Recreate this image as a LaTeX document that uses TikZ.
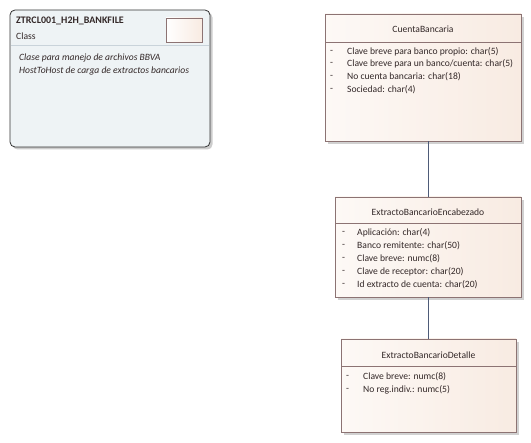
\documentclass[tikz,border=0pt]{standalone}
\usepackage{fontspec}
\setmainfont{Carlito}
\usetikzlibrary{shadows}

\definecolor{umlborder}{HTML}{8C7373}
\definecolor{umltext}{HTML}{332828}
\definecolor{umlfillL}{HTML}{FDF9F6}
\definecolor{umlfillR}{HTML}{F8EBE2}
\definecolor{notefill}{HTML}{EEF3F5}
\definecolor{noteline}{HTML}{C9D3DA}
\definecolor{connector}{HTML}{4E5B78}

\tikzset{
  classbox/.style={draw=umlborder, thick, left color=umlfillL, right color=umlfillR,
    drop shadow={shadow xshift=3pt, shadow yshift=-3pt, fill=black!18, opacity=1},
    inner sep=0pt},
  classtitle/.style={font=\fontsize{9.6}{11}\selectfont, text=umltext},
  attr/.style={anchor=west, font=\fontsize{9.6}{11}\selectfont, text=umltext, inner sep=0pt},
  sepline/.style={draw=umlborder, thick},
  conn/.style={draw=connector, thick}
}

\begin{document}
\begin{tikzpicture}[x=1pt, y=-1pt]
  \useasboundingbox (0,0) rectangle (531,443);

  % -- Note / package box --
  \node[draw=black!80, thick, rounded corners=5pt, fill=notefill,
        drop shadow={shadow xshift=2.5pt, shadow yshift=-2.5pt, fill=black!20, opacity=1},
        minimum width=200pt, minimum height=137pt, inner sep=0pt] (nota) at (110,78.5) {};
  \node[attr, font=\fontsize{10}{12}\selectfont\bfseries] (notatitle) at (16,21) {ZTRCL001\_H2H\_BANKFILE};
  \node[attr] (notatipo) at (16,36) {Class};
  \node[draw=umlborder, left color=white, right color=umlfillR, minimum width=36pt,
        minimum height=24pt, inner sep=0pt] (notaicon) at (184,30) {};
  \draw[noteline] (11,45) -- (209,45);
  \node[attr, font=\fontsize{9.6}{11}\selectfont\itshape] (notal1) at (19,58) {Clase para manejo de archivos BBVA};
  \node[attr, font=\fontsize{9.6}{11}\selectfont\itshape] (notal2) at (19,71) {HostToHost de carga de extractos bancarios};

  % -- CuentaBancaria --
  \node[classbox, minimum width=196pt, minimum height=127pt] (cuenta) at (423,77.5) {};
  \node[classtitle] (cuentatitle) at (423,29) {CuentaBancaria};
  \draw[sepline] (325,42) -- (521,42);
  \foreach \y/\t in {52/{Clave breve para banco propio: char(5)},
                     64/{Clave breve para un banco/cuenta: char(5)},
                     77/{No cuenta bancaria: char(18)},
                     90/{Sociedad: char(4)}} {
    \node[attr] at (330,\y) {-};
    \node[attr] at (347,\y) {\t};
  }

  % -- ExtractoBancarioEncabezado --
  \node[classbox, minimum width=186pt, minimum height=100pt] (encabezado) at (428,247) {};
  \node[classtitle] (encabezadotitle) at (428,212) {ExtractoBancarioEncabezado};
  \draw[sepline] (335,223) -- (521,223);
  \foreach \y/\t in {233/{Aplicación: char(4)},
                     246/{Banco remitente: char(50)},
                     259/{Clave breve: numc(8)},
                     272/{Clave de receptor: char(20)},
                     285/{Id extracto de cuenta: char(20)}} {
    \node[attr] at (342,\y) {-};
    \node[attr] at (357,\y) {\t};
  }

  % -- ExtractoBancarioDetalle --
  \node[classbox, minimum width=175pt, minimum height=93pt] (detalle) at (428.5,385.5) {};
  \node[classtitle] (detalletitle) at (428.5,355) {ExtractoBancarioDetalle};
  \draw[sepline] (341,366) -- (516,366);
  \foreach \y/\t in {377/{Clave breve: numc(8)},
                     390/{No reg.indiv.: numc(5)}} {
    \node[attr] at (346,\y) {-};
    \node[attr] at (363,\y) {\t};
  }

  % -- Associations --
  \draw[conn] (encabezado.north) -- (encabezado.north |- cuenta.south);
  \draw[conn] (detalle.north -| encabezado.south) -- (encabezado.south);

\end{tikzpicture}
\end{document}
